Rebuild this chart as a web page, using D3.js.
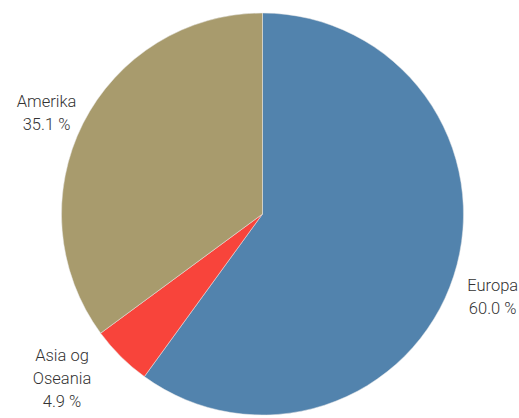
<!DOCTYPE html>
<html>
<head>
<meta charset="utf-8">
<script src="https://cdn.jsdelivr.net/npm/d3@7"></script>
<style>
  body { margin: 0; background: #fff; }
  text { font-family: Roboto, "Liberation Sans", sans-serif; font-weight: 300; font-size: 16.5px; fill: #333; }
</style>
</head>
<body>
<script>
// Chart data
const regions = [["Europa"], ["Asia og", "Oseania"], ["Amerika"]];
const shares = [60.0, 4.9, 35.1];
const colors = ["#5283ad", "#f8443b", "#a89b6d"];

const width = 519, height = 418;
const cx = 262.5, cy = 214, radius = 201, labelRadius = 242;
const lineHeight = 23;
const labelPad = 14;

const svg = d3.select("body").append("svg")
    .attr("width", width)
    .attr("height", height);

const g = svg.append("g")
    .attr("transform", "translate(" + cx + "," + cy + ")");

const data = shares.map((v, i) => ({ label: regions[i], value: v, color: colors[i] }));

const pie = d3.pie()
    .value(d => d.value)
    .sort(null);

const arc = d3.arc()
    .innerRadius(0)
    .outerRadius(radius);

const arcs = pie(data);

g.selectAll("path")
    .data(arcs)
    .enter().append("path")
    .attr("d", arc)
    .style("fill", d => d.data.color)
    .style("stroke", "#e8e8e8")
    .style("stroke-width", 0.5);

// Labels on an outer circle; a label that would leave the canvas is pulled up
// and then slid sideways so it stays clear of the pie
arcs.forEach(d => {
    const lines = d.data.label.concat([d.data.value.toFixed(1) + " %"]);
    const mid = (d.startAngle + d.endAngle) / 2;
    const side = Math.sign(Math.sin(mid));

    const t = g.append("text")
        .attr("text-anchor", "middle");
    lines.forEach((l, i) => {
        t.append("tspan")
            .attr("x", 0)
            .attr("y", (i - (lines.length - 1) / 2) * lineHeight)
            .attr("dy", "0.35em")
            .text(l);
    });

    const box = t.node().getBBox();
    const halfW = box.width / 2, halfH = lines.length * lineHeight / 2;

    let x = Math.sin(mid) * labelRadius;
    let y = -Math.cos(mid) * labelRadius + 8;
    const maxY = height - cy - halfH - 5;
    if (y > maxY) {
        y = maxY;
        // nearest box corner must clear the pie
        const cornerY = Math.abs(y) - halfH;
        const r = radius + labelPad;
        const needX = Math.sqrt(Math.max(0, r * r - cornerY * cornerY)) + halfW;
        if (Math.abs(x) < needX) x = side * needX;
    }

    t.attr("transform", "translate(" + x + "," + y + ")");
});
</script>
</body>
</html>
